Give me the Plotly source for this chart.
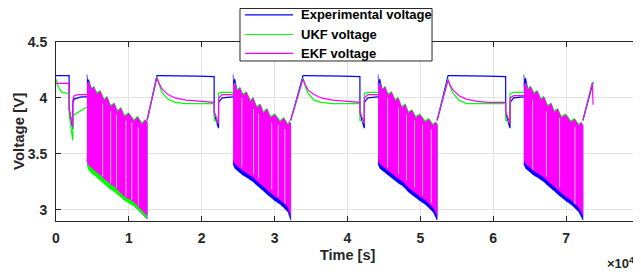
import plotly.graph_objects as go

# ---------------- data (time in units of 10^4 s, voltage in V) ----------------
# rest / charge segments (None separates segments; discharge windows are drawn as bands)
line_t = [0, 0.03, 0.08, 0.15, 0.18, 0.181, 0.21, 0.23, 0.231, 0.25, 0.30, 0.35, 0.40, 0.425, None,
          1.25, 1.385, 1.415, 1.455, 1.535, 1.635, 1.785, 1.935, 2.17, 2.171, 2.23, 2.231, 2.28, 2.43, None,
          3.22, 3.39, 3.42, 3.46, 3.54, 3.64, 3.79, 3.94, 4.17, 4.171, 4.23, 4.231, 4.28, 4.42, None,
          5.23, 5.38, 5.41, 5.45, 5.53, 5.63, 5.78, 5.93, 6.17, 6.171, 6.23, 6.231, 6.28, 6.42, None,
          7.23, 7.36, 7.37]

exp_line = [4.20, 4.20, 4.20, 4.20, 4.20, 3.90, 3.78, 3.72, 3.96, 3.99, 4.00, 4.01, 4.01, 4.01, None,
            3.80, 4.20, 4.20, 4.20, 4.20, 4.20, 4.20, 4.195, 4.19, 3.86, 3.73, 3.96, 4.00, 4.01, None,
            3.80, 4.20, 4.20, 4.20, 4.20, 4.20, 4.20, 4.195, 4.19, 3.86, 3.73, 3.96, 4.00, 4.01, None,
            3.80, 4.20, 4.20, 4.20, 4.20, 4.20, 4.20, 4.195, 4.19, 3.86, 3.73, 3.96, 4.00, 4.01, None,
            3.80, 4.14, 4.14]

ukf_line = [4.17, 4.10, 4.05, 4.04, 4.04, 3.85, 3.70, 3.62, 3.82, 3.85, 3.87, 3.89, 3.91, 3.92, None,
            3.80, 4.19, 4.12, 4.05, 3.99, 3.96, 3.95, 3.95, 3.95, 3.80, 3.78, 4.04, 4.05, 4.05, None,
            3.80, 4.18, 4.10, 4.04, 3.98, 3.96, 3.95, 3.95, 3.95, 3.80, 3.78, 4.04, 4.05, 4.05, None,
            3.80, 4.17, 4.10, 4.04, 3.98, 3.95, 3.95, 3.95, 3.95, 3.80, 3.78, 4.04, 4.05, 4.05, None,
            3.80, 4.14, 4.12]

ekf_line = [4.13, 4.13, 4.13, 4.13, 4.13, 3.90, 3.78, 3.74, 3.98, 4.02, 4.03, 4.03, 4.03, 4.03, None,
            3.80, 4.18, 4.13, 4.08, 4.03, 4.00, 3.98, 3.97, 3.96, 3.88, 3.77, 4.00, 4.03, 4.03, None,
            3.80, 4.17, 4.12, 4.07, 4.03, 4.00, 3.98, 3.97, 3.96, 3.88, 3.77, 4.00, 4.03, 4.03, None,
            3.80, 4.16, 4.11, 4.07, 4.02, 3.99, 3.97, 3.96, 3.96, 3.88, 3.77, 4.00, 4.02, 4.02, None,
            3.80, 4.13, 3.94]

# pulsed discharge windows: upper / lower envelopes (None separates windows)
band_t = [0.425, 0.43, 0.45, 0.48, 0.52, 0.56, 0.61, 0.66, 0.70, 0.75, 0.80, 0.84, 0.89, 0.94, 1.00, 1.07, 1.12, 1.18, 1.22, 1.25, None,
          2.43, 2.435, 2.455, 2.485, 2.525, 2.565, 2.615, 2.665, 2.705, 2.755, 2.805, 2.845, 2.895, 2.945, 3.005, 3.075, 3.125, 3.185, 3.205, 3.22, None,
          4.42, 4.425, 4.445, 4.475, 4.515, 4.555, 4.605, 4.655, 4.695, 4.745, 4.795, 4.835, 4.885, 4.935, 4.995, 5.065, 5.115, 5.175, 5.205, 5.23, None,
          6.42, 6.425, 6.445, 6.475, 6.515, 6.555, 6.605, 6.655, 6.695, 6.745, 6.795, 6.835, 6.885, 6.935, 6.995, 7.065, 7.115, 7.175, 7.205, 7.23]

exp_hi = [4.21, 4.17, 4.16, 4.09, 4.08, 4.05, 4.04, 3.99, 3.98, 3.93, 3.94, 3.89, 3.88, 3.84, 3.85, 3.80, 3.82, 3.77, 3.79, 3.78, None,
          4.21, 4.15, 4.17, 4.07, 4.08, 4.03, 4.04, 3.98, 3.97, 3.92, 3.93, 3.87, 3.88, 3.83, 3.84, 3.79, 3.81, 3.76, 3.78, 3.76, None,
          4.21, 4.15, 4.17, 4.08, 4.08, 4.04, 4.03, 3.98, 3.97, 3.92, 3.93, 3.87, 3.88, 3.83, 3.84, 3.79, 3.80, 3.76, 3.77, 3.76, None,
          4.21, 4.16, 4.18, 4.08, 4.09, 4.05, 4.04, 3.99, 4.00, 3.93, 3.94, 3.88, 3.89, 3.83, 3.84, 3.79, 3.80, 3.76, 3.77, 3.75]
exp_lo = [3.45, 3.41, 3.38, 3.36, 3.34, 3.32, 3.29, 3.26, 3.24, 3.21, 3.19, 3.16, 3.12, 3.09, 3.07, 3.04, 3.01, 2.97, 2.94, 2.92, None,
          3.42, 3.40, 3.37, 3.35, 3.33, 3.31, 3.29, 3.27, 3.25, 3.22, 3.19, 3.17, 3.14, 3.11, 3.08, 3.05, 3.02, 2.98, 2.95, 2.91, None,
          3.42, 3.40, 3.37, 3.35, 3.33, 3.31, 3.29, 3.26, 3.24, 3.22, 3.19, 3.16, 3.14, 3.11, 3.08, 3.05, 3.02, 2.98, 2.95, 2.91, None,
          3.42, 3.40, 3.37, 3.35, 3.33, 3.31, 3.29, 3.27, 3.25, 3.22, 3.19, 3.17, 3.14, 3.11, 3.08, 3.05, 3.02, 2.98, 2.95, 2.91]

ukf_hi = [4.15, 4.12, 4.15, 4.08, 4.11, 4.05, 4.07, 3.99, 4.02, 3.94, 3.96, 3.89, 3.92, 3.85, 3.87, 3.81, 3.84, 3.78, 3.81, 3.79, None,
          4.14, 4.11, 4.14, 4.08, 4.10, 4.04, 4.06, 3.98, 4.01, 3.93, 3.95, 3.88, 3.91, 3.84, 3.86, 3.80, 3.83, 3.77, 3.80, 3.77, None,
          4.14, 4.11, 4.14, 4.08, 4.11, 4.04, 4.06, 3.99, 4.01, 3.93, 3.95, 3.88, 3.90, 3.84, 3.86, 3.80, 3.82, 3.77, 3.79, 3.77, None,
          4.14, 4.11, 4.14, 4.09, 4.11, 4.05, 4.07, 4.00, 4.02, 3.94, 3.96, 3.89, 3.91, 3.84, 3.86, 3.80, 3.82, 3.77, 3.79, 3.76]
ukf_lo = [3.42, 3.38, 3.35, 3.33, 3.31, 3.29, 3.26, 3.23, 3.21, 3.18, 3.16, 3.14, 3.11, 3.08, 3.06, 3.03, 3.00, 2.96, 2.94, 2.92, None,
          3.47, 3.45, 3.42, 3.40, 3.38, 3.36, 3.34, 3.32, 3.30, 3.27, 3.24, 3.22, 3.19, 3.16, 3.13, 3.10, 3.07, 3.03, 3.00, 2.96, None,
          3.47, 3.45, 3.42, 3.40, 3.38, 3.36, 3.34, 3.31, 3.29, 3.27, 3.24, 3.21, 3.19, 3.16, 3.13, 3.10, 3.07, 3.03, 3.00, 2.96, None,
          3.47, 3.45, 3.42, 3.40, 3.38, 3.36, 3.34, 3.32, 3.30, 3.27, 3.24, 3.22, 3.19, 3.16, 3.13, 3.10, 3.07, 3.03, 3.00, 2.96]

ekf_hi = [4.15, 4.12, 4.14, 4.07, 4.10, 4.03, 4.06, 3.97, 4.01, 3.92, 3.95, 3.87, 3.91, 3.83, 3.86, 3.79, 3.83, 3.76, 3.80, 3.79, None,
          4.14, 4.10, 4.13, 4.06, 4.09, 4.02, 4.05, 3.96, 4.00, 3.91, 3.94, 3.86, 3.90, 3.82, 3.85, 3.78, 3.82, 3.75, 3.79, 3.77, None,
          4.14, 4.10, 4.13, 4.07, 4.10, 4.02, 4.05, 3.97, 4.00, 3.91, 3.94, 3.86, 3.89, 3.82, 3.85, 3.78, 3.81, 3.75, 3.78, 3.77, None,
          4.14, 4.10, 4.13, 4.07, 4.10, 4.03, 4.06, 3.98, 4.01, 3.92, 3.95, 3.87, 3.90, 3.82, 3.85, 3.78, 3.81, 3.75, 3.78, 3.76]
ekf_lo = [3.47, 3.43, 3.40, 3.38, 3.36, 3.34, 3.31, 3.28, 3.26, 3.23, 3.21, 3.18, 3.15, 3.12, 3.10, 3.07, 3.04, 3.00, 2.97, 2.95, None,
          3.46, 3.44, 3.41, 3.39, 3.37, 3.35, 3.33, 3.31, 3.29, 3.26, 3.23, 3.21, 3.18, 3.15, 3.12, 3.09, 3.06, 3.02, 2.99, 2.95, None,
          3.46, 3.44, 3.41, 3.39, 3.37, 3.35, 3.33, 3.30, 3.28, 3.26, 3.23, 3.20, 3.18, 3.15, 3.12, 3.09, 3.06, 3.02, 2.99, 2.95, None,
          3.46, 3.44, 3.41, 3.39, 3.37, 3.35, 3.33, 3.31, 3.29, 3.26, 3.23, 3.21, 3.18, 3.15, 3.12, 3.09, 3.06, 3.02, 2.99, 2.95]

# pale streaks visible inside the EKF pulse bands (rest gaps between pulse groups)
streak_t = [0.64, 0.75, 0.83, 0.96, 1.04, 1.13,
            2.55, 2.71, 2.78, 2.96, 3.05, 3.14,
            4.55, 4.70, 4.81, 4.92, 5.03, 5.15,
            6.54, 6.73, 6.91, 7.12]
streak_top = [3.95, 3.88, 3.85, 3.80, 3.78, 3.74,
              4.00, 3.90, 3.86, 3.78, 3.76, 3.72,
              4.00, 3.91, 3.85, 3.80, 3.76, 3.72,
              3.98, 3.88, 3.82, 3.74]
streak_bot = [3.30, 3.24, 3.20, 3.12, 3.09, 3.04,
              3.38, 3.32, 3.28, 3.18, 3.12, 3.06,
              3.38, 3.32, 3.26, 3.20, 3.13, 3.06,
              3.36, 3.30, 3.20, 3.05]

series_names = ["Experimental voltage", "UKF voltage", "EKF voltage"]
series_colors = ["#0000FF", "#00FF00", "#FF00FF"]

x_tickvals = [0, 1, 2, 3, 4, 5, 6, 7, 8]
x_ticktext = ["0", "1", "2", "3", "4", "5", "6", "7", "8"]
y_tickvals = [3, 3.5, 4, 4.5]
y_ticktext = ["3", "3.5", "4", "4.5"]


def split_none(seq):
    out, cur = [], []
    for v in seq:
        if v is None:
            out.append(cur)
            cur = []
        else:
            cur.append(v)
    out.append(cur)
    return out


FONT = "Liberation Sans, Arial, sans-serif"
TXT = "#262626"

fig = go.Figure()
lines = [exp_line, ukf_line, ekf_line]
bands = [(exp_hi, exp_lo), (ukf_hi, ukf_lo), (ekf_hi, ekf_lo)]
outline_w = [0.6, 0, 0.6]
win_t = split_none(band_t)
for name, col, ln, (hi, lo), ow in zip(series_names, series_colors, lines, bands, outline_w):
    fig.add_trace(go.Scatter(x=line_t, y=ln, mode="lines", name=name,
                             line=dict(color=col, width=1.2), connectgaps=False,
                             showlegend=False, hoverinfo="skip"))
    for t, h, l in zip(win_t, split_none(hi), split_none(lo)):
        fig.add_trace(go.Scatter(x=t + t[::-1], y=h + l[::-1], mode="lines",
                                 fill="toself", fillcolor=col,
                                 line=dict(color=col, width=ow),
                                 showlegend=False, hoverinfo="skip"))

sx, sy = [], []
for t, top, bot in zip(streak_t, streak_top, streak_bot):
    sx += [t, t, None]
    sy += [bot, top, None]
fig.add_trace(go.Scatter(x=sx, y=sy, mode="lines", line=dict(color="#ffb8ff", width=1),
                         showlegend=False, hoverinfo="skip"))

axis_common = dict(showgrid=True, gridcolor="#e3e3e3", gridwidth=1,
                   showline=True, linecolor=TXT, linewidth=1, mirror="ticks",
                   ticks="inside", ticklen=5, tickcolor=TXT, zeroline=False,
                   tickfont=dict(family=FONT, size=14, color=TXT, weight="bold"))

# legend box drawn in paper coordinates (plot area spans paper 0..1)
leg_x0, leg_x1, leg_y0, leg_y1 = 0.3156, 0.645, 0.894, 1.187
leg_line_x0, leg_line_x1, leg_text_x = 0.3242, 0.4065, 0.4168
leg_rows = [1.151, 1.042, 0.936]

shapes = [dict(type="rect", xref="paper", yref="paper", x0=leg_x0, x1=leg_x1,
               y0=leg_y0, y1=leg_y1, fillcolor="white", line=dict(color=TXT, width=1),
               layer="above")]
annotations = []
for name, col, ry in zip(series_names, series_colors, leg_rows):
    shapes.append(dict(type="line", xref="paper", yref="paper", x0=leg_line_x0, x1=leg_line_x1,
                       y0=ry, y1=ry, line=dict(color=col, width=1.2), layer="above"))
    annotations.append(dict(text=name, xref="paper", yref="paper", x=leg_text_x, y=ry,
                            xanchor="left", yanchor="middle", showarrow=False,
                            font=dict(family=FONT, size=13, color="black", weight="bold")))

annotations += [
    dict(text="Time [s]", xref="paper", yref="paper", x=0.5, y=-0.19,
         xanchor="center", yanchor="middle", showarrow=False,
         font=dict(family=FONT, size=14.5, color=TXT, weight="bold")),
    dict(text="Voltage [V]", xref="paper", yref="paper", x=-0.0635, y=0.503,
         xanchor="center", yanchor="middle", showarrow=False, textangle=-90,
         font=dict(family=FONT, size=15, color=TXT, weight="bold")),
    dict(text="×10<sup>4</sup>", xref="paper", yref="paper", x=0.997, y=-0.232,
         xanchor="right", yanchor="middle", showarrow=False,
         font=dict(family=FONT, size=13, color=TXT, weight="bold")),
]

# the page body adds an 8 px offset, so the figure is 8 px smaller than the window
fig.update_layout(
    width=633, height=264,
    margin=dict(l=48, r=2, t=34, b=51),
    paper_bgcolor="white", plot_bgcolor="white",
    xaxis=dict(range=[0, 8], tickvals=x_tickvals, ticktext=x_ticktext,
               ticklabelstandoff=4, **axis_common),
    yaxis=dict(range=[2.9, 4.5], tickvals=y_tickvals, ticktext=y_ticktext,
               ticklabelstandoff=5, **axis_common),
    showlegend=False,
    shapes=shapes,
    annotations=annotations,
)

fig.write_html("out.html")
